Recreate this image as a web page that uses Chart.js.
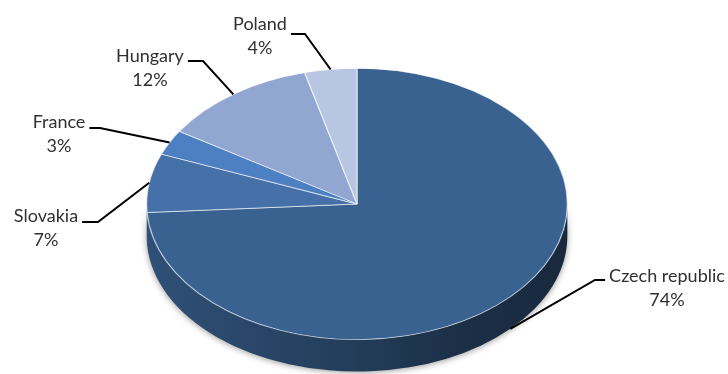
<!DOCTYPE html>
<html>
<head>
<meta charset="utf-8">
<script src="https://cdn.jsdelivr.net/npm/chart.js@4.4.1/dist/chart.umd.min.js"></script>
<style>
  html, body { margin: 0; padding: 0; background: #fff; }
  canvas { display: block; }
</style>
</head>
<body>
<canvas id="countryPie" width="728" height="374"></canvas>
<script>
// share of sales by country, clockwise from 12 o'clock
const countries = ['Czech republic', 'Slovakia', 'France', 'Hungary', 'Poland'];
const shares = [74, 7, 3, 12, 4];
const sliceColors = ['#396291', '#4570a8', '#4d80c2', '#91a6d0', '#b9c6e1'];

// pie geometry: centre, horizontal radius, tilt (vertical squash) and wall height
const CX = 357, CY = 204, RX = 211;
const TILT = 136 / 211;
const DEPTH = 32;

// label layout: [centre x, baseline of first line], and the bend of each leader line
const labelPos = [[667, 282], [46, 222], [59, 128], [150, 62], [260, 30]];
const elbowPos = [[595, 280], [98, 222], [100, 128], [203, 61], [305, 34]];
const LINE_GAP = 24;

function shade(hex, f) {
    const n = parseInt(hex.slice(1), 16);
    const r = Math.round(((n >> 16) & 255) * f);
    const g = Math.round(((n >> 8) & 255) * f);
    const b = Math.round((n & 255) * f);
    return 'rgb(' + r + ',' + g + ',' + b + ')';
}

const pie3d = {
    id: 'pie3d',
    afterLayout(chart) {
        // square area so the radius is RX, squashed later to an ellipse
        chart.chartArea = {
            left: CX - RX, right: CX + RX,
            top: CY - RX, bottom: CY + RX,
            width: 2 * RX, height: 2 * RX
        };
    },
    beforeDatasetsDraw(chart) {
        const ctx = chart.ctx;
        const arcs = chart.getDatasetMeta(0).data;
        // front wall of each slice (only the half facing the viewer)
        arcs.forEach((arc, i) => {
            const p = arc.getProps(['x', 'y', 'startAngle', 'endAngle', 'outerRadius'], true);
            const a1 = Math.max(p.startAngle, 0);
            const a2 = Math.min(p.endAngle, Math.PI);
            if (a2 <= a1) return;
            const r = p.outerRadius;
            const ry = r * TILT;
            const g = ctx.createLinearGradient(p.x - r, 0, p.x + r, 0);
            g.addColorStop(0, shade(sliceColors[i], 0.82));
            g.addColorStop(0.45, shade(sliceColors[i], 0.64));
            g.addColorStop(0.75, shade(sliceColors[i], 0.48));
            g.addColorStop(1, shade(sliceColors[i], 0.42));
            ctx.save();
            ctx.shadowColor = 'rgba(0,0,0,0.4)';
            ctx.shadowBlur = 6;
            ctx.shadowOffsetY = 1;
            ctx.beginPath();
            ctx.ellipse(p.x, p.y, r, ry, 0, a1, a2);
            ctx.ellipse(p.x, p.y + DEPTH, r, ry, 0, a2, a1, true);
            ctx.closePath();
            ctx.fillStyle = g;
            ctx.fill();
            ctx.restore();
        });
        // top face: draw the circle squashed vertically
        ctx.save();
        ctx.translate(0, CY);
        ctx.scale(1, TILT);
        ctx.translate(0, -CY);
    },
    afterDatasetsDraw(chart) {
        const ctx = chart.ctx;
        ctx.restore();
        const arcs = chart.getDatasetMeta(0).data;
        ctx.save();
        ctx.font = '18px Lato';
        ctx.textAlign = 'center';
        ctx.textBaseline = 'alphabetic';
        arcs.forEach((arc, i) => {
            const p = arc.getProps(['x', 'y', 'startAngle', 'endAngle', 'outerRadius'], true);
            const mid = (p.startAngle + p.endAngle) / 2;
            const ax = p.x + p.outerRadius * Math.cos(mid);
            let ay = p.y + p.outerRadius * TILT * Math.sin(mid);
            if (Math.sin(mid) > 0) ay += DEPTH;

            const [lx, ly] = labelPos[i];
            const [ex, ey] = elbowPos[i];
            const w = ctx.measureText(countries[i]).width;
            const sx = ex > lx ? lx + w / 2 + 4 : lx - w / 2 - 4;

            ctx.strokeStyle = '#000';
            ctx.lineWidth = 2;
            ctx.beginPath();
            ctx.moveTo(sx, ey);
            ctx.lineTo(ex, ey);
            ctx.lineTo(ax, ay);
            ctx.stroke();

            ctx.fillStyle = '#303030';
            ctx.fillText(countries[i], lx, ly);
            ctx.fillText(shares[i] + '%', lx, ly + LINE_GAP);
        });
        ctx.restore();
    }
};

new Chart(document.getElementById('countryPie'), {
    type: 'pie',
    data: {
        labels: countries,
        datasets: [{
            data: shares,
            backgroundColor: sliceColors,
            borderColor: 'rgba(255,255,255,0.6)',
            borderWidth: 1.3,
            clip: false
        }]
    },
    options: {
        responsive: false,
        animation: false,
        events: [],
        plugins: {
            legend: { display: false },
            tooltip: { enabled: false }
        }
    },
    plugins: [pie3d]
});
</script>
</body>
</html>
